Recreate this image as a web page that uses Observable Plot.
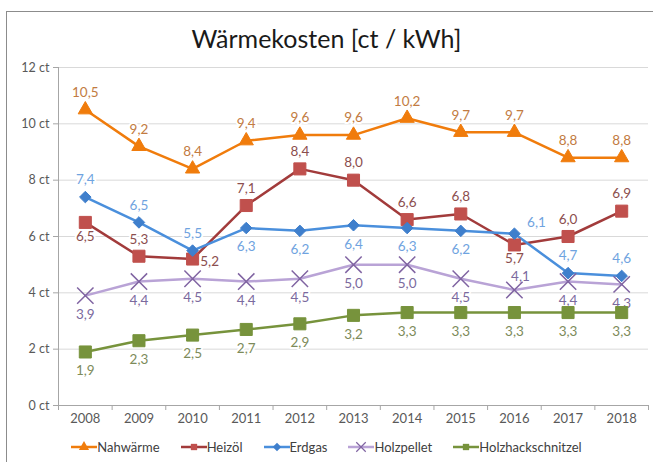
<!DOCTYPE html>
<html><head><meta charset="utf-8">
<script src="https://cdn.jsdelivr.net/npm/d3@7"></script>
<script src="https://cdn.jsdelivr.net/npm/@observablehq/plot@0.6"></script>
<style>
body{margin:0;background:#fff;font-family:Lato,"Open Sans",sans-serif;width:653px;height:462px;overflow:hidden;position:relative;}
#frame{position:absolute;left:6px;top:11px;width:700px;height:500px;border:1px solid #8c8c8c;}
#title{position:absolute;left:0;top:24px;width:653px;text-align:center;font-size:25px;line-height:28px;color:#1a1a1a;}
#chart{position:absolute;left:0;top:0;}
#legend{position:absolute;left:0;top:439px;width:653px;display:flex;justify-content:center;gap:21px;font-size:13px;line-height:16px;color:#404040;}
#legend .item{display:flex;align-items:center;}
#legend svg{display:block;}
</style></head><body>
<div id="frame"></div>
<div id="chart"></div>
<div id="title">Wärmekosten [ct / kWh]</div>
<div id="legend"></div>
<script>
const years = [2008, 2009, 2010, 2011, 2012, 2013, 2014, 2015, 2016, 2017, 2018];
const seriesNames = ["Nahwärme", "Heizöl", "Erdgas", "Holzpellet", "Holzhackschnitzel"];
const nahwaerme = [10.5, 9.2, 8.4, 9.4, 9.6, 9.6, 10.2, 9.7, 9.7, 8.8, 8.8];
const heizoel = [6.5, 5.3, 5.2, 7.1, 8.4, 8.0, 6.6, 6.8, 5.7, 6.0, 6.9];
const erdgas = [7.4, 6.5, 5.5, 6.3, 6.2, 6.4, 6.3, 6.2, 6.1, 4.7, 4.6];
const holzpellet = [3.9, 4.4, 4.5, 4.4, 4.5, 5.0, 5.0, 4.5, 4.1, 4.4, 4.3];
const holzhack = [1.9, 2.3, 2.5, 2.7, 2.9, 3.2, 3.3, 3.3, 3.3, 3.3, 3.3];
// label placement codes: t = above, b = below, bn = just below, r = right, tr = upper right, tn = above, slightly right
const placeNahwaerme = ["t","t","t","t","t","t","t","t","t","t","t"];
const placeHeizoel = ["bn","t","r","t","t","t","t","t","bn","t","t"];
const placeErdgas = ["t","t","t","b","b","b","b","b","tr","t","t"];
const placeHolzpellet = ["b","b","b","b","b","b","b","b","tn","b","b"];
const placeHolzhack = ["b","b","b","b","b","b","b","b","b","b","b"];
const yTicks = [0, 2, 4, 6, 8, 10, 12];

const values = [nahwaerme, heizoel, erdgas, holzpellet, holzhack];
const places = [placeNahwaerme, placeHeizoel, placeErdgas, placeHolzpellet, placeHolzhack];

const styles = [
  {line: "#f07c0c", marker: "#f07c0c", label: "#c27b42", symbol: "triangle", r: 5.3, width: 2.5},
  {line: "#a23b3b", marker: "#c0504d", label: "#8b4e4e", symbol: "square", r: 6.8, width: 2.5},
  {line: "#4a8fdc", marker: "#3f7fcc", label: "#6fa3e0", symbol: "diamond2", r: 5.2, width: 2.5},
  {line: "#b9a3d6", marker: "#8064a2", label: "#7b6a9e", symbol: "times", r: 7.5, width: 2.5, strokeMarker: true},
  {line: "#77933c", marker: "#77933c", label: "#7d8b5a", symbol: "square", r: 6.8, width: 2.5}
];
const offsets = {t: {dx: 0, dy: -17}, b: {dx: 0, dy: 19}, bn: {dx: 0, dy: 14}, r: {dx: 17, dy: 3}, tr: {dx: 22, dy: -11}, tn: {dx: 6, dy: -13}};

const rows = [];
seriesNames.forEach((s, i) => years.forEach((yr, j) => rows.push({series: s, idx: i, year: yr, value: values[i][j], pos: places[i][j]})));
const fmt = v => v.toFixed(1).replace(".", ",");

const boundaries = [...years.map(y => y - 0.5), years[years.length - 1] + 0.5];

const marks = [
  Plot.ruleY(yTicks.filter(d => d > 0), {stroke: "#d9d9d9", strokeWidth: 1}),
  Plot.ruleY([0], {stroke: "#a6a6a6"}),
  Plot.frame({anchor: "left", stroke: "#a6a6a6"}),
  Plot.axisY({ticks: yTicks, tickFormat: d => `${d} ct`, tickSize: 5, tickPadding: 4, fontSize: 12.5, stroke: "#a6a6a6", fill: "#595959", label: null}),
  Plot.axisX({ticks: boundaries, tickFormat: () => "", tickSize: 5, stroke: "#a6a6a6", label: null}),
  Plot.axisX({ticks: years, tickFormat: d => String(d), tickSize: 0, tickPadding: 8, fontSize: 13, fill: "#595959", label: null})
];

seriesNames.forEach((s, i) => {
  const st = styles[i];
  Object.entries(offsets).forEach(([code, off]) => {
    const sub = rows.filter(d => d.idx === i && d.pos === code);
    if (!sub.length) return;
    marks.push(Plot.text(sub, {x: "year", y: "value", text: d => fmt(d.value), fill: st.label, stroke: "white", strokeWidth: 4, fontSize: 13.5, dx: off.dx, dy: off.dy}));
  });
});

seriesNames.forEach((s, i) => {
  const st = styles[i];
  const sub = rows.filter(d => d.idx === i);
  marks.push(Plot.line(sub, {x: "year", y: "value", stroke: st.line, strokeWidth: st.width}));
});
seriesNames.forEach((s, i) => {
  const st = styles[i];
  const sub = rows.filter(d => d.idx === i);
  if (st.strokeMarker) {
    marks.push(Plot.dot(sub, {x: "year", y: "value", symbol: st.symbol, r: st.r, stroke: st.marker, strokeWidth: 1.5, fill: "none"}));
  } else {
    marks.push(Plot.dot(sub, {x: "year", y: "value", symbol: st.symbol, r: st.r, fill: st.marker, stroke: st.marker, strokeWidth: 1}));
  }
});

const chart = Plot.plot({
  width: 653,
  height: 430,
  marginTop: 67,
  marginBottom: 25,
  marginLeft: 58,
  marginRight: 5,
  style: {fontFamily: 'Lato, "Open Sans", sans-serif', background: "transparent", overflow: "visible"},
  x: {type: "linear", domain: [boundaries[0], boundaries[boundaries.length - 1]], axis: null},
  y: {domain: [0, 12], axis: null},
  marks
});
document.getElementById("chart").appendChild(chart);

// legend
const legend = document.getElementById("legend");
seriesNames.forEach((s, i) => {
  const st = styles[i];
  const item = document.createElement("div");
  item.className = "item";
  const w = 26, h = 14;
  const svg = d3.create("svg").attr("width", w).attr("height", h);
  svg.append("line").attr("x1", 0).attr("x2", w).attr("y1", h / 2).attr("y2", h / 2).attr("stroke", st.line).attr("stroke-width", 2.5);
  const sym = {triangle: d3.symbolTriangle, square: d3.symbolSquare, diamond2: d3.symbolDiamond2, times: d3.symbolTimes}[st.symbol];
  const size = {triangle: 45, square: 40, diamond2: 45, times: 60}[st.symbol];
  const p = svg.append("path").attr("d", d3.symbol(sym, size)()).attr("transform", `translate(${w / 2},${h / 2})`);
  if (st.strokeMarker) p.attr("fill", "none").attr("stroke", st.marker).attr("stroke-width", 1.2);
  else p.attr("fill", st.marker);
  item.appendChild(svg.node());
  const t = document.createElement("span");
  t.textContent = s;
  item.appendChild(t);
  legend.appendChild(item);
});
</script>
</body></html>
